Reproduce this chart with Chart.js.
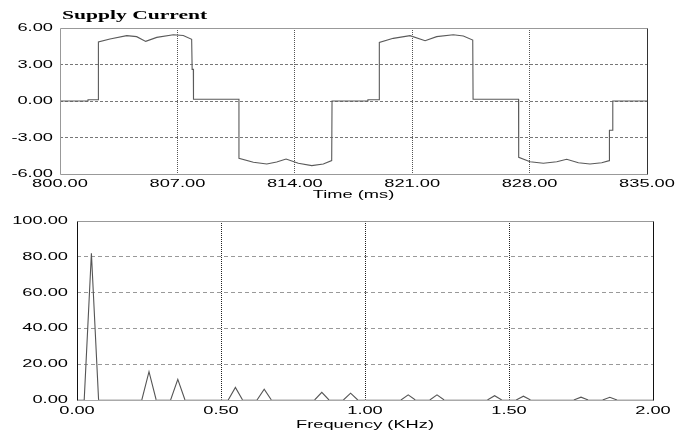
<!DOCTYPE html>
<html>
<head>
<meta charset="utf-8">
<script src="https://cdn.jsdelivr.net/npm/chart.js@4/dist/chart.umd.min.js"></script>
<style>
  body { margin: 0; background: #fff; }
  #wrap { position: relative; width: 678px; height: 434px; }
  #timeChart { position: absolute; left: 0; top: 0; }
  #freqChart { position: absolute; left: 0; top: 205px; }
</style>
</head>
<body>
<div id="wrap">
  <canvas id="timeChart" width="678" height="205"></canvas>
  <canvas id="freqChart" width="678" height="229"></canvas>
</div>
<script>
// supply current waveform (ms, A)
const timeMs = [
  800.00, 801.67, 801.67, 802.28, 802.29,
  802.98, 803.98, 804.57, 805.11, 805.77, 806.76, 807.35, 807.85,
  807.88, 807.95, 807.96, 810.67, 810.67,
  811.53, 812.33, 812.92, 813.48, 814.21, 815.01, 815.70, 816.20,
  816.22, 818.36, 818.36, 819.03, 819.04,
  819.87, 820.87, 821.77, 822.46, 823.45, 824.05, 824.61,
  824.63, 827.34, 827.35,
  828.03, 828.82, 829.62, 830.21, 830.91, 831.60, 832.30, 832.75,
  832.76, 832.95, 832.96, 835.00
];
const currentA = [
  0, 0, 0.10, 0.10, 4.85,
  5.09, 5.37, 5.29, 4.90, 5.23, 5.45, 5.39, 5.07,
  2.60, 2.60, 0.15, 0.15, -4.71,
  -5.04, -5.18, -5.01, -4.77, -5.12, -5.31, -5.18, -4.90,
  0.00, 0.00, 0.10, 0.10, 4.82,
  5.15, 5.37, 4.95, 5.29, 5.45, 5.34, 5.01,
  0.15, 0.15, -4.63,
  -4.99, -5.12, -4.99, -4.79, -5.07, -5.18, -5.07, -4.90,
  -2.40, -2.40, 0.00, 0.00
];
const timeTicks = [800, 807, 814, 821, 828, 835];
const currentTicks = [-6, -3, 0, 3, 6];

// harmonic spectrum (KHz, magnitude)
const freqKHz = [
  0, 0.025, 0.05, 0.075,
  0.225, 0.25, 0.275, 0.325, 0.35, 0.375,
  0.525, 0.55, 0.575, 0.625, 0.65, 0.675,
  0.825, 0.85, 0.875, 0.925, 0.95, 0.975,
  1.125, 1.15, 1.175, 1.225, 1.25, 1.275,
  1.425, 1.45, 1.475, 1.525, 1.55, 1.575,
  1.725, 1.75, 1.775, 1.825, 1.85, 1.875, 2.0
];
const magnitude = [
  0, 0, 82, 0,
  0, 15.8, 0, 0, 11.5, 0,
  0, 7.0, 0, 0, 6.0, 0,
  0, 4.3, 0, 0, 3.8, 0,
  0, 2.9, 0, 0, 2.9, 0,
  0, 2.4, 0, 0, 2.1, 0,
  0, 1.6, 0, 0, 1.5, 0, 0
];
const freqTicks = [0, 0.5, 1, 1.5, 2];
const magTicks = [0, 20, 40, 60, 80, 100];

const STRETCH = 1.66;
const TICK_FONT = '11px "Liberation Sans", Arial, sans-serif';
const TITLE_FONT = 'bold 13px "Liberation Serif", serif';

// wide labels: text squeezed into a horizontally stretched box
function wideText(ctx, text, x, y, align, font) {
  ctx.save();
  ctx.font = font;
  ctx.fillStyle = '#000';
  ctx.textBaseline = 'middle';
  ctx.textAlign = align;
  ctx.translate(x, y);
  ctx.scale(STRETCH, 1);
  ctx.fillText(text, 0, 0);
  ctx.restore();
}

const axisText = {
  id: 'axisText',
  afterDraw(chart, args, opts) {
    const { ctx, chartArea: a, scales: { x, y } } = chart;
    const line = (x1, y1, x2, y2, color) => {
      ctx.save();
      ctx.strokeStyle = color;
      ctx.lineWidth = 1;
      ctx.beginPath();
      ctx.moveTo(x1, y1);
      ctx.lineTo(x2, y2);
      ctx.stroke();
      ctx.restore();
    };
    const L = Math.round(a.left) + 0.5, R = Math.round(a.right) + 0.5;
    const T = Math.round(a.top) + 0.5, B = Math.round(a.bottom) + 0.5;
    line(L, T, R, T, opts.frame.top);
    line(L, T, L, B, opts.frame.left);
    line(R, T, R, B, opts.frame.right);

    y.ticks.forEach(t => wideText(ctx, t.value.toFixed(2), a.left - opts.yGap, y.getPixelForValue(t.value), 'right', TICK_FONT));
    x.ticks.forEach(t => wideText(ctx, t.value.toFixed(2), x.getPixelForValue(t.value), a.bottom + opts.xGap, 'center', TICK_FONT));
    wideText(ctx, opts.xTitle, (a.left + a.right) / 2, a.bottom + opts.xTitleGap, 'center', TICK_FONT);
    if (opts.title) wideText(ctx, opts.title, a.left + 2, 16, 'left', TITLE_FONT);
  },
  // bottom edge goes under the trace
  beforeDatasetsDraw(chart, args, opts) {
    const { ctx, chartArea: a } = chart;
    const B = Math.round(a.bottom) + 0.5;
    ctx.save();
    ctx.strokeStyle = opts.frame.bottom;
    ctx.lineWidth = 1;
    ctx.beginPath();
    ctx.moveTo(Math.round(a.left) + 0.5, B);
    ctx.lineTo(Math.round(a.right) + 0.5, B);
    ctx.stroke();
    ctx.restore();
  }
};

function gridColor(min, max, color) {
  return c => (c.tick && (c.tick.value === min || c.tick.value === max)) ? 'rgba(0,0,0,0)' : color;
}

function makeChart(el, xs, ys, cfg) {
  return new Chart(el, {
    type: 'line',
    data: {
      datasets: [{
        data: xs.map((v, i) => ({ x: v, y: ys[i] })),
        borderColor: cfg.lineColor,
        borderWidth: 1.1,
        pointRadius: 0,
        tension: 0,
        fill: false,
        segment: cfg.flatColor ? {
          // runs along the zero line are left to the frame colour
          borderColor: s => (s.p0.parsed.y === 0 && s.p1.parsed.y === 0) ? cfg.flatColor : undefined
        } : undefined
      }]
    },
    options: {
      responsive: false,
      animation: false,
      events: [],
      layout: { padding: cfg.padding },
      plugins: {
        legend: { display: false },
        tooltip: { enabled: false },
        axisText: cfg.text
      },
      scales: {
        x: {
          type: 'linear',
          min: cfg.xTicks[0],
          max: cfg.xTicks[cfg.xTicks.length - 1],
          afterBuildTicks: s => { s.ticks = cfg.xTicks.map(value => ({ value })); },
          afterFit: s => { s.height = cfg.xHeight; },
          ticks: { display: false },
          grid: {
            drawTicks: false,
            color: gridColor(cfg.xTicks[0], cfg.xTicks[cfg.xTicks.length - 1], cfg.vGrid)
          },
          border: { display: false, dash: [1, 1] }
        },
        y: {
          min: cfg.yTicks[0],
          max: cfg.yTicks[cfg.yTicks.length - 1],
          afterBuildTicks: s => { s.ticks = cfg.yTicks.map(value => ({ value })); },
          afterFit: s => { s.width = cfg.yWidth; },
          ticks: { display: false },
          grid: {
            drawTicks: false,
            color: gridColor(cfg.yTicks[0], cfg.yTicks[cfg.yTicks.length - 1], cfg.hGrid)
          },
          border: { display: false, dash: cfg.hDash }
        }
      }
    },
    plugins: [axisText]
  });
}

makeChart(document.getElementById('timeChart'), timeMs, currentA, {
  lineColor: '#5a5a5a',
  padding: { top: 28, right: 31, left: 0, bottom: 0 },
  xTicks: timeTicks,
  yTicks: currentTicks,
  xHeight: 31,
  yWidth: 60,
  vGrid: '#555',
  hGrid: '#777',
  hDash: [3, 2],
  text: {
    title: 'Supply Current',
    xTitle: 'Time (ms)',
    yGap: 7, xGap: 10, xTitleGap: 21,
    frame: { top: '#999', bottom: '#999', left: '#999', right: '#333' }
  }
});

makeChart(document.getElementById('freqChart'), freqKHz, magnitude, {
  lineColor: '#555',
  flatColor: '#aaa',
  padding: { top: 16, right: 25, left: 0, bottom: 0 },
  xTicks: freqTicks,
  yTicks: magTicks,
  xHeight: 34,
  yWidth: 77,
  vGrid: '#222',
  hGrid: '#999',
  hDash: [4, 3],
  text: {
    xTitle: 'Frequency (KHz)',
    yGap: 9, xGap: 10.5, xTitleGap: 25,
    frame: { top: '#999', bottom: '#aaa', left: '#111', right: '#111' }
  }
});
</script>
</body>
</html>
